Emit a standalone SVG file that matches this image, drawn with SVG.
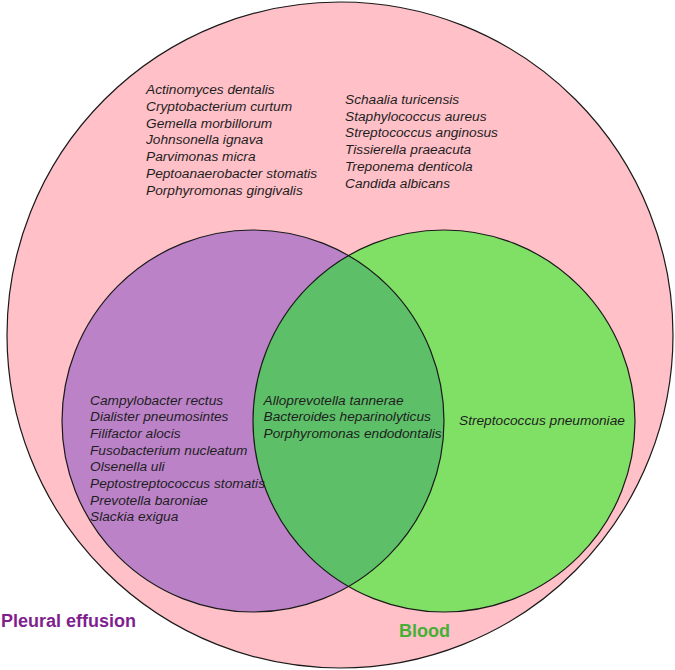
<svg xmlns="http://www.w3.org/2000/svg" width="675" height="670" viewBox="0 0 675 670">
<defs>
<style>
.ring{stroke:#1a1a1a;stroke-width:1.2}
.sp{font-family:"Liberation Sans",Arial,sans-serif;font-style:italic;font-size:13.7px;fill:#1e1e1e}
.lab{font-family:"Liberation Sans",Arial,sans-serif;font-weight:bold;font-size:18px}
</style>
<clipPath id="purpleClip"><circle cx="253" cy="421" r="191"/></clipPath>
</defs>
<rect width="675" height="670" fill="#ffffff"/>
<g id="pleural-effusion">
<circle class="ring" cx="340" cy="335" r="333" fill="#ffc0c8"/>
<text class="sp" x="146" y="94.3">Actinomyces dentalis</text>
<text class="sp" x="146" y="111">Cryptobacterium curtum</text>
<text class="sp" x="146" y="127.7">Gemella morbillorum</text>
<text class="sp" x="146" y="144.4">Johnsonella ignava</text>
<text class="sp" x="146" y="161.1">Parvimonas micra</text>
<text class="sp" x="146" y="177.8">Peptoanaerobacter stomatis</text>
<text class="sp" x="146" y="194.5">Porphyromonas gingivalis</text>
<text class="sp" x="345" y="104">Schaalia turicensis</text>
<text class="sp" x="345" y="120.7">Staphylococcus aureus</text>
<text class="sp" x="345" y="137.4">Streptococcus anginosus</text>
<text class="sp" x="345" y="154.1">Tissierella praeacuta</text>
<text class="sp" x="345" y="170.8">Treponema denticola</text>
<text class="sp" x="345" y="187.5">Candida albicans</text>
<text class="lab" x="1" y="627" fill="#7f1f8e">Pleural effusion</text>
<text class="lab" x="399" y="637" fill="#45b035">Blood</text>
</g>
<g id="purple-set">
<circle cx="253" cy="421" r="191" fill="#bb82c8"/>
</g>
<g id="blood-set">
<circle cx="444" cy="421" r="191" fill="#80e066"/>
<circle cx="444" cy="421" r="191" fill="#5dbf68" clip-path="url(#purpleClip)"/>
</g>
<g id="outlines">
<circle class="ring" cx="253" cy="421" r="191" fill="none"/>
<circle class="ring" cx="444" cy="421" r="191" fill="none"/>
</g>
<g id="purple-labels">
<text class="sp" x="90" y="404.5">Campylobacter rectus</text>
<text class="sp" x="90" y="421.2">Dialister pneumosintes</text>
<text class="sp" x="90" y="437.9">Filifactor alocis</text>
<text class="sp" x="90" y="454.5">Fusobacterium nucleatum</text>
<text class="sp" x="90" y="471.2">Olsenella uli</text>
<text class="sp" x="90" y="487.9">Peptostreptococcus stomatis</text>
<text class="sp" x="90" y="504.5">Prevotella baroniae</text>
<text class="sp" x="90" y="521.2">Slackia exigua</text>
</g>
<g id="overlap-labels">
<text class="sp" x="263.5" y="404.5">Alloprevotella tannerae</text>
<text class="sp" x="263.5" y="421.2">Bacteroides heparinolyticus</text>
<text class="sp" x="263.5" y="437.9">Porphyromonas endodontalis</text>
</g>
<g id="blood-labels">
<text class="sp" x="459" y="424.5">Streptococcus pneumoniae</text>
</g>
<g id="connectors"/>
</svg>
